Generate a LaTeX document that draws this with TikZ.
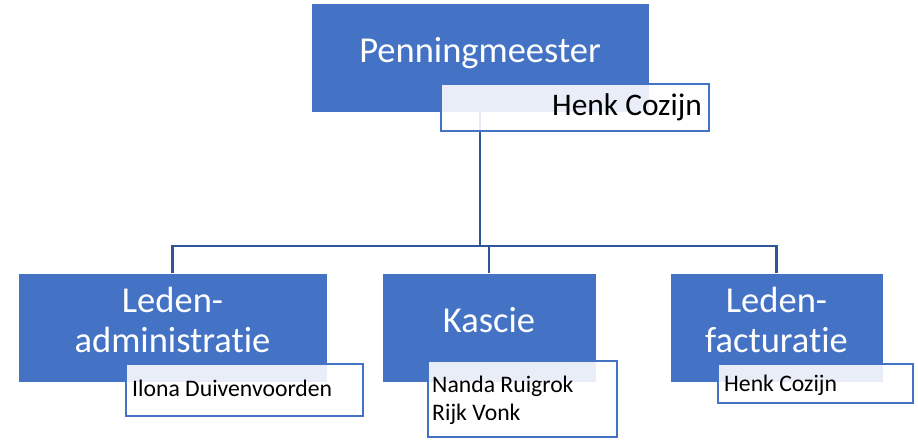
\documentclass[tikz,border=0pt]{standalone}
\usepackage{fontspec}
\setmainfont{Carlito}[Ligatures={NoCommon}]
\definecolor{boxblue}{HTML}{4472C4}
\definecolor{linkblue}{HTML}{2F5597}
\begin{document}
\begin{tikzpicture}[x=1pt,y=-1pt,
  bluebox/.style={draw=white, line width=0.6pt, fill=boxblue, anchor=north west, inner sep=0, outer sep=0},
  namebox/.style={draw=boxblue, line width=1.7pt, fill=white, fill opacity=0.88, anchor=north west, inner sep=0, outer sep=0},
  bigtext/.style={anchor=base, inner sep=0, text=white, font=\fontsize{36.5}{40}\selectfont},
  smalltext/.style={anchor=base west, inner sep=0, text=black, font=\fontsize{23.7}{28}\selectfont},
  link/.style={draw=linkblue, line width=2.4pt}]
\useasboundingbox (0,0) rectangle (918,439);
% blue boxes
\node[bluebox, minimum width=338pt, minimum height=109pt] (pm) at (311,3) {};
\node[bluebox, minimum width=309pt, minimum height=109pt] (c1) at (18,273) {};
\node[bluebox, minimum width=214pt, minimum height=109pt] (c2) at (382,273) {};
\node[bluebox, minimum width=213pt, minimum height=109pt] (c3) at (670,273) {};
% titles
\node[bigtext] (tpm) at (480,62) {Penningmeester};
\node[bigtext] (tc1a) at (172.5,312) {Leden-};
\node[bigtext] (tc1b) at (172.5,352) {administratie};
\node[bigtext] (tc2) at (489,332) {Kascie};
\node[bigtext] (tc3a) at (776.5,312) {Leden-};
\node[bigtext] (tc3b) at (776.5,352) {facturatie};
% connectors
\coordinate (bus) at (480,246);
\draw[link] (pm.south) -- (bus);
\draw[link] (bus) -| (c1.north);
\draw[link] (bus) -| (c2.north);
\draw[link] (bus) -| (c3.north);
% name boxes
\node[namebox, minimum width=268pt, minimum height=47pt] (n0) at (441,84) {};
\node[namebox, minimum width=237pt, minimum height=52pt] (n1) at (126,364) {};
\node[namebox, minimum width=189pt, minimum height=76pt] (n2) at (428,361) {};
\node[namebox, minimum width=195pt, minimum height=39pt] (n3) at (718,364) {};
% names
\node[anchor=base east, inner sep=0, font=\fontsize{31.4}{36}\selectfont] (tn0) at (702,115) {Henk Cozijn};
\node[smalltext] (tn1) at (132,396) {Ilona Duivenvoorden};
\node[smalltext] (tn2a) at (432,392) {Nanda Ruigrok};
\node[smalltext] (tn2b) at (432,420) {Rijk Vonk};
\node[smalltext] (tn3) at (724,391) {Henk Cozijn};
\end{tikzpicture}
\end{document}
